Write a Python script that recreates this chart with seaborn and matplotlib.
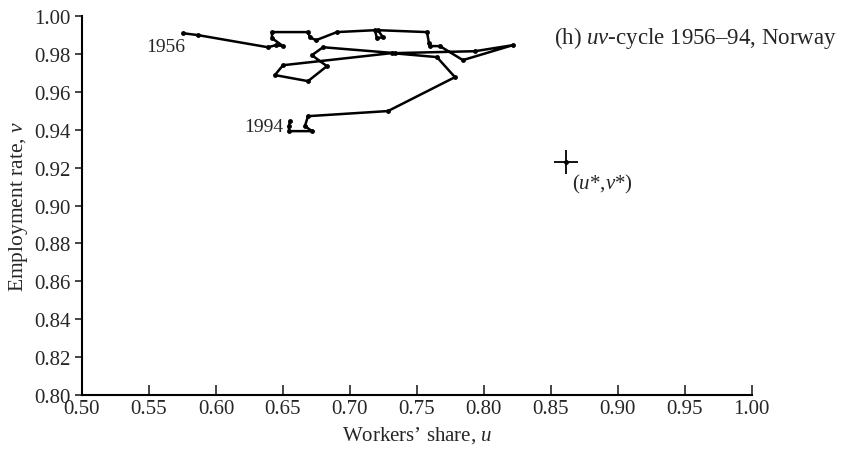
import numpy as np
import pandas as pd
import matplotlib
matplotlib.use("Agg")
import matplotlib.pyplot as plt
import seaborn as sns

# uv-cycle Norway 1956-94
years = list(range(1956, 1995))
workers_share = [0.5754, 0.5866, 0.6388, 0.6448, 0.6500, 0.6418, 0.6418, 0.6687,
                 0.6701, 0.6746, 0.6903, 0.7187, 0.7201, 0.7246, 0.7209, 0.7575,
                 0.7590, 0.7597, 0.7672, 0.7843, 0.8216, 0.7933, 0.7336, 0.6799,
                 0.6716, 0.6828, 0.6687, 0.6440, 0.6500, 0.7313, 0.7649, 0.7784,
                 0.7284, 0.6687, 0.6664, 0.6716, 0.6545, 0.6545, 0.6552]
employment_rate = [0.9910, 0.9900, 0.9836, 0.9847, 0.9842, 0.9884, 0.9916, 0.9916,
                   0.9889, 0.9873, 0.9916, 0.9926, 0.9884, 0.9889, 0.9926, 0.9916,
                   0.9858, 0.9842, 0.9842, 0.9768, 0.9847, 0.9815, 0.9805, 0.9836,
                   0.9794, 0.9736, 0.9657, 0.9689, 0.9741, 0.9805, 0.9784, 0.9678,
                   0.9499, 0.9472, 0.9420, 0.9393, 0.9393, 0.9420, 0.9446]

# steady state point (u*, v*)
u_star = 0.861
v_star = 0.923

df = pd.DataFrame({"year": years, "u": workers_share, "v": employment_rate})

sns.set_style("ticks")
plt.rcParams['font.family'] = ['Liberation Serif', 'DejaVu Serif']
plt.rcParams['mathtext.fontset'] = 'custom'
plt.rcParams['mathtext.rm'] = 'Liberation Serif'
plt.rcParams['mathtext.it'] = 'Liberation Serif:italic'

fig = plt.figure(figsize=(8.41, 4.52), dpi=100)
ax = fig.add_axes([0.0975, 0.124, 0.7965, 0.838])

sns.lineplot(data=df, x="u", y="v", sort=False, estimator=None, ax=ax,
             color="black", linewidth=1.8, marker="o", markersize=3.5,
             markeredgewidth=0, markerfacecolor="black")

# year labels at start and end
ax.text(0.577, 0.984, "1956", ha="right", va="center", fontsize=14)
ax.text(0.6505, 0.942, "1994", ha="right", va="center", fontsize=14)

# steady state crosshair
ax.plot([u_star], [v_star], marker="+", markersize=17, markeredgewidth=1.3, color="black")
ax.plot([u_star], [v_star], marker="o", markersize=2.5, color="black")
ax.text(0.8655, 0.9115, "($u$*,$v$*)", ha="left", va="center", fontsize=15)

ax.text(0.705, 0.944, "(h) $uv$-cycle 1956–94, Norway", transform=ax.transAxes,
        ha="left", va="center", fontsize=16.5, clip_on=False)

ax.set_xlim(0.5, 1.0)
ax.set_ylim(0.8, 1.0)
ax.set_xticks(np.arange(0.5, 1.0001, 0.05))
ax.set_yticks(np.arange(0.8, 1.0001, 0.02))
ax.xaxis.set_major_formatter(matplotlib.ticker.FormatStrFormatter("%.2f"))
ax.yaxis.set_major_formatter(matplotlib.ticker.FormatStrFormatter("%.2f"))
ax.tick_params(axis="x", direction="in", length=7, width=1.2, labelsize=15, pad=3)
ax.tick_params(axis="y", direction="out", length=5, width=1.2, labelsize=15, pad=3)

ax.set_xlabel("Workers’ share, $u$", fontsize=15, labelpad=4)
ax.set_ylabel("Employment rate, $v$", fontsize=15.5, labelpad=3)

sns.despine(ax=ax)
for side in ["left", "bottom"]:
    ax.spines[side].set_linewidth(1.5)
    ax.spines[side].set_color("black")

fig.savefig("out.png", dpi=100)
